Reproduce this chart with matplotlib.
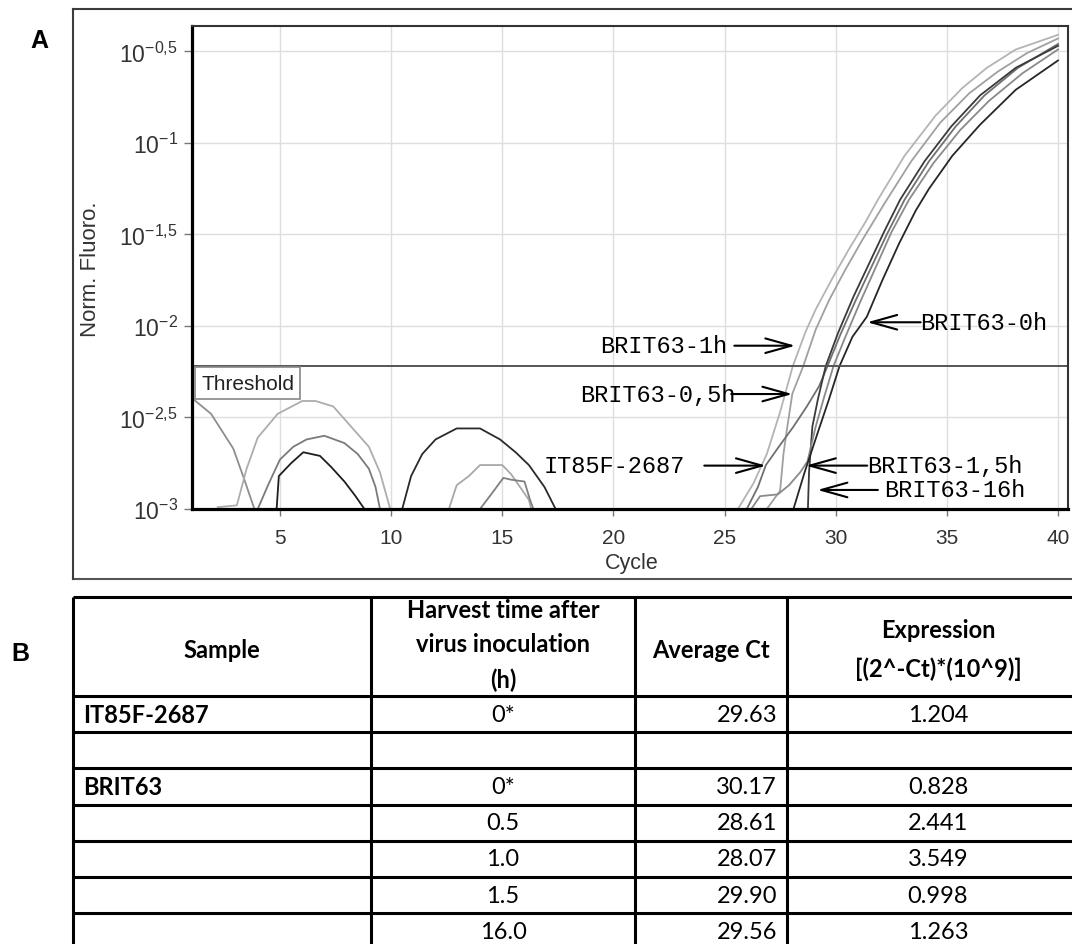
import numpy as np
import matplotlib
matplotlib.use('Agg')
import matplotlib.pyplot as plt
from matplotlib.ticker import FixedLocator, FixedFormatter, NullLocator

plt.rcParams['font.family'] = ['Liberation Sans', 'DejaVu Sans']
plt.rcParams['mathtext.fontset'] = 'custom'
plt.rcParams['mathtext.rm'] = 'Liberation Sans'
plt.rcParams['mathtext.it'] = 'Liberation Sans'
plt.rcParams['mathtext.default'] = 'regular'

# amplification curves, (cycle, log10 of norm. fluoro.)
brit63_1h = [(25.6, -3.0), (26.3, -2.86), (26.9, -2.70), (27.5, -2.47), (28.07, -2.22),
             (28.65, -2.03), (29.1, -1.91), (29.85, -1.74), (30.6, -1.58), (31.35, -1.43),
             (31.9, -1.31), (33.1, -1.07), (34.5, -0.85), (35.7, -0.70), (36.8, -0.59),
             (38.1, -0.49), (40.0, -0.41)]
brit63_05h = [(26.9, -3.0), (27.5, -2.9), (27.65, -2.7), (27.8, -2.57), (28.05, -2.37),
              (28.54, -2.22), (29.1, -2.02), (29.7, -1.86), (30.4, -1.70), (31.2, -1.53),
              (32.2, -1.33), (33.4, -1.10), (34.7, -0.89), (36.0, -0.73), (37.3, -0.61),
              (38.6, -0.51), (40.0, -0.43)]
it85f_2687 = [(26.0, -3.0), (26.5, -2.88), (26.86, -2.76), (27.5, -2.65), (28.1, -2.55),
              (28.7, -2.44), (29.25, -2.33), (29.63, -2.22), (30.2, -2.05), (30.9, -1.86),
              (31.6, -1.68), (32.3, -1.50), (33.1, -1.31), (34.2, -1.10), (35.4, -0.91),
              (36.7, -0.74), (38.2, -0.59), (40.0, -0.46)]
brit63_16h = [(28.75, -3.0), (28.8, -2.8), (28.95, -2.55), (29.2, -2.40), (29.55, -2.22),
              (30.1, -2.04), (30.8, -1.84), (31.5, -1.66), (32.2, -1.48), (32.9, -1.31),
              (34.0, -1.10), (35.2, -0.91), (36.5, -0.74), (38.1, -0.59), (40.0, -0.47)]
brit63_15h = [(26.2, -3.0), (26.6, -2.93), (27.4, -2.92), (27.9, -2.87), (28.4, -2.80),
              (28.73, -2.74), (29.1, -2.55), (29.5, -2.38), (29.9, -2.22), (30.4, -2.07),
              (31.1, -1.87), (31.8, -1.68), (32.5, -1.49), (33.3, -1.31), (34.4, -1.11),
              (35.6, -0.93), (36.9, -0.77), (38.4, -0.62), (40.0, -0.49)]
brit63_0h = [(28.1, -3.0), (28.6, -2.80), (29.2, -2.58), (29.7, -2.40), (30.17, -2.22),
             (30.75, -2.06), (31.4, -1.95), (32.1, -1.75), (32.85, -1.55), (33.6, -1.37),
             (34.2, -1.25), (35.25, -1.07), (36.5, -0.90), (38.1, -0.71), (40.0, -0.55)]

# baseline noise humps before amplification
noise_1 = [(1.0, -2.39), (1.9, -2.48), (2.9, -2.67), (3.4, -2.84), (3.85, -3.0)]
noise_2 = [(2.2, -2.99), (3.06, -2.98), (3.5, -2.78), (4.0, -2.61), (4.9, -2.48), (6.0, -2.41),
           (6.6, -2.41), (7.4, -2.44), (8.2, -2.55), (9.0, -2.66), (9.5, -2.80), (9.96, -3.0)]
noise_3 = [(4.0, -3.0), (4.5, -2.86), (5.0, -2.73), (5.6, -2.66), (6.2, -2.62), (7.0, -2.60),
           (7.9, -2.64), (8.5, -2.70), (9.0, -2.78), (9.3, -2.88), (9.5, -3.0)]
noise_4 = [(4.85, -3.0), (4.95, -2.82), (5.5, -2.75), (6.05, -2.69), (6.8, -2.71), (7.3, -2.77),
           (7.9, -2.85), (8.4, -2.93), (8.8, -3.0)]
noise_5 = [(10.5, -3.0), (10.9, -2.82), (11.4, -2.70), (12.0, -2.62), (12.95, -2.56), (14.0, -2.56),
           (14.9, -2.62), (15.6, -2.69), (16.2, -2.76), (16.9, -2.88), (17.4, -3.0)]
noise_6 = [(12.6, -3.0), (12.95, -2.87), (13.5, -2.82), (14.0, -2.76), (15.0, -2.76), (15.4, -2.81),
           (16.2, -2.95), (16.3, -3.0)]
noise_7 = [(14.0, -3.0), (14.5, -2.92), (15.05, -2.83), (15.4, -2.84), (16.0, -2.85), (16.25, -2.95),
           (16.4, -3.0)]

threshold_log = -2.22

x_ticks = [5, 10, 15, 20, 25, 30, 35, 40]
y_tick_logs = [-3, -2.5, -2, -1.5, -1, -0.5]
y_tick_labels = [r'$10^{-3}$', r'$10^{-2{,}5}$', r'$10^{-2}$', r'$10^{-1{,}5}$', r'$10^{-1}$', r'$10^{-0{,}5}$']

# table B
samples = ['IT85F-2687', '', 'BRIT63', '', '', '', '']
harvest = ['0*', '', '0*', '0.5', '1.0', '1.5', '16.0']
avg_ct = ['29.63', '', '30.17', '28.61', '28.07', '29.90', '29.56']
expression = ['1.204', '', '0.828', '2.441', '3.549', '0.998', '1.263']
headers = [['Sample'], ['Harvest time after', 'virus inoculation', '(h)'],
           ['Average Ct'], ['Expression', '[(2^-Ct)*(10^9)]']]

W, H = 1072, 945
fig = plt.figure(figsize=(W / 100, H / 100), dpi=100)

ax = fig.add_axes([191.7 / W, 1 - 510 / H, (1068 - 191.7) / W, (510 - 26.7) / H])
ax.set_yscale('log')

curves = [(noise_1, '#8e8e8e'), (noise_2, '#adadad'), (noise_3, '#7a7a7a'), (noise_4, '#1e1e1e'),
          (noise_5, '#2a2a2a'), (noise_6, '#a8a8a8'), (noise_7, '#808080'),
          (brit63_1h, '#b4b4b4'), (brit63_05h, '#a0a0a0'), (it85f_2687, '#707070'),
          (brit63_16h, '#3a3a3a'), (brit63_15h, '#8a8a8a'), (brit63_0h, '#262626')]
for pts, col in curves:
    arr = np.array(pts)
    ax.plot(arr[:, 0], 10 ** arr[:, 1], color=col, lw=1.3)

ax.axhline(10 ** threshold_log, color='#555555', lw=1.4)

ax.set_xlim(1.03, 40.45)
ax.set_ylim(10 ** -3, 10 ** -0.36)
ax.set_xticks(x_ticks)
ax.yaxis.set_major_locator(FixedLocator([10 ** v for v in y_tick_logs]))
ax.yaxis.set_major_formatter(FixedFormatter(y_tick_labels))
ax.yaxis.set_minor_locator(NullLocator())
ax.grid(True, color='#dedede', lw=1.0)
ax.set_axisbelow(True)
ax.tick_params(axis='x', length=5, width=1, color='#777777', labelsize=15, labelcolor='#333333', pad=9)
ax.tick_params(axis='y', length=6, width=1, color='#777777', labelsize=16.5, labelcolor='#333333', pad=4)
for s in ['left', 'bottom']:
    ax.spines[s].set_linewidth(2.3)
    ax.spines[s].set_color('black')
for s in ['top', 'right']:
    ax.spines[s].set_linewidth(1.5)
    ax.spines[s].set_color('#333333')

ax.text(1.45, 10 ** (threshold_log - 0.093), 'Threshold', fontsize=15, va='center', ha='left',
        color='#222222', bbox=dict(boxstyle='square,pad=0.3', fc='white', ec='#888888', lw=1.2))

# arrow labels
label_names = ['BRIT63-1h', 'BRIT63-0,5h', 'IT85F-2687', 'BRIT63-0h', 'BRIT63-1,5h', 'BRIT63-16h']
label_tips = [(28.18, -2.108), (28.05, -2.372), (26.86, -2.763), (31.42, -1.98), (28.66, -2.763), (29.18, -2.896)]
label_tails = [25.44, 25.3, 24.09, 33.82, 31.42, 31.9]
label_text_x = [25.13, 25.5, 23.23, 33.82, 31.42, 32.17]
label_ha = ['right', 'right', 'right', 'left', 'left', 'left']
for name, tip, tail, tx, ha in zip(label_names, label_tips, label_tails, label_text_x, label_ha):
    ax.annotate('', xy=(tip[0], 10 ** tip[1]), xytext=(tail, 10 ** tip[1]),
                arrowprops=dict(arrowstyle='->, head_length=1.25, head_width=0.35', lw=1.5,
                                color='black', shrinkA=0, shrinkB=0, mutation_scale=15))
    ax.text(tx, 10 ** tip[1], name, fontsize=17, family='Liberation Mono', ha=ha,
            va='center', color='black')

# overlay in pixel coords for frames, labels and the table
bg = fig.add_axes([0, 0, 1, 1])
bg.set_xlim(0, W)
bg.set_ylim(H, 0)
bg.axis('off')

bg.plot([72.7, W], [10, 10], color='#3c3c3c', lw=1.5)
bg.plot([72.7, W], [580, 580], color='#555555', lw=1.5)
bg.plot([72.7, 72.7], [10, 580], color='#3c3c3c', lw=1.5)

bg.text(39, 41, 'A', fontsize=18, fontweight='bold', ha='center', va='center')
bg.text(20.6, 654, 'B', fontsize=18, fontweight='bold', ha='center', va='center')
bg.text(91, 269, 'Norm. Fluoro.', fontsize=16, rotation=90, ha='center', va='center', color='#333333')
bg.text(632, 564, 'Cycle', fontsize=15.5, ha='center', va='center', color='#333333')

col_edges = [72.7, 371, 635, 787, 1089]
table_top = 598
header_bottom = 697
row_h = 36.2
row_lines = [table_top, header_bottom] + [header_bottom + row_h * (i + 1) for i in range(len(samples))]
for y in row_lines:
    bg.plot([col_edges[0], W + 5], [y, y], color='black', lw=2.2, solid_capstyle='butt')
for x in col_edges[:-1]:
    bg.plot([x, x], [table_top, H + 5], color='black', lw=2.2, solid_capstyle='butt')

tfont = ['Lato', 'DejaVu Sans']
for j, lines in enumerate(headers):
    xc = (col_edges[j] + col_edges[j + 1]) / 2
    n = len(lines)
    yc, step = (645, 35) if n == 3 else (650, 38)
    for k, line in enumerate(lines):
        y = yc + step * (k - (n - 1) / 2)
        bg.text(xc, y, line, fontsize=17, fontweight='bold', family=tfont, ha='center', va='center')

for i in range(len(samples)):
    y = header_bottom + row_h * i + row_h / 2
    bg.text(col_edges[0] + 10, y, samples[i], fontsize=17, fontweight='bold', family=tfont,
            ha='left', va='center')
    bg.text((col_edges[1] + col_edges[2]) / 2, y, harvest[i], fontsize=17, family=tfont,
            ha='center', va='center')
    bg.text(col_edges[3] - 10, y, avg_ct[i], fontsize=17, family=tfont, ha='right', va='center')
    bg.text((col_edges[3] + col_edges[4]) / 2, y, expression[i], fontsize=17, family=tfont,
            ha='center', va='center')

fig.savefig('out.png', dpi=100, facecolor='white')
